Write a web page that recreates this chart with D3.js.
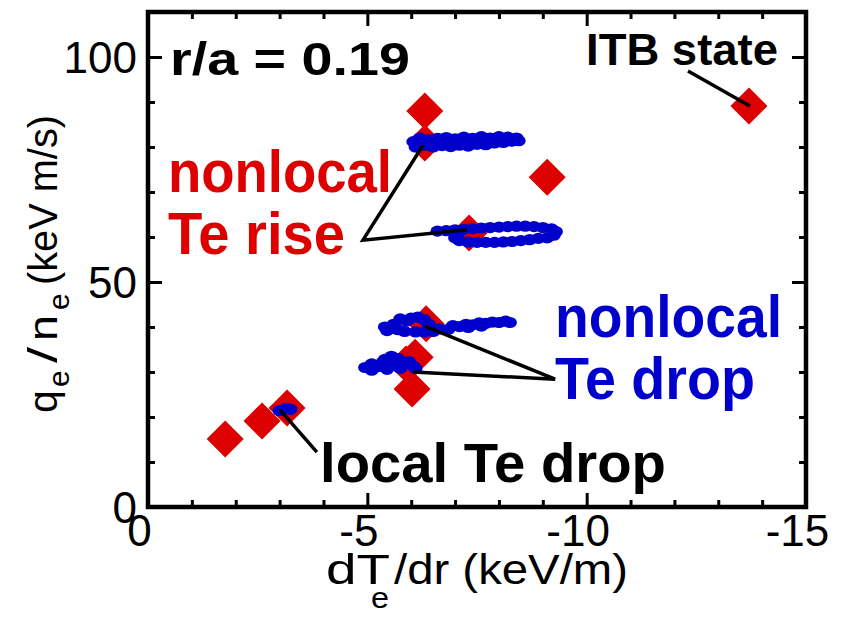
<!DOCTYPE html>
<html>
<head>
<meta charset="utf-8">
<script src="https://cdn.jsdelivr.net/npm/d3@7"></script>
<style>
  body { margin: 0; background: #fff; }
  svg { display: block; font-family: "Liberation Sans", Arial, sans-serif; }
</style>
</head>
<body>
<svg id="chart" width="841" height="617"></svg>
<script>
const diamonds = [
  [-1.76, 15.1], [-2.60, 19.1], [-3.17, 22.0],
  [-6.31, 88.0], [-6.31, 80.9], [-9.10, 73.3], [-7.32, 60.9],
  [-6.34, 40.7], [-6.09, 33.3], [-5.88, 31.8], [-6.02, 26.2],
  [-13.70, 89.1]
];

// blue time traces (nonlocal rise / drop, local drop)
const riseTop = [
  [-6.05, 81.2], [-6.1, 80.0], [-6.2, 82.0], [-6.3, 80.4], [-6.4, 81.6], [-6.5, 80.0],
  [-6.6, 81.9], [-6.7, 80.3], [-6.8, 82.1], [-6.9, 80.1], [-7.0, 81.8], [-7.1, 80.4],
  [-7.2, 82.2], [-7.3, 80.2], [-7.4, 81.9], [-7.5, 80.6], [-7.6, 82.3], [-7.7, 80.5],
  [-7.8, 82.0], [-7.9, 80.9], [-8.0, 82.3], [-8.1, 81.0], [-8.2, 82.2], [-8.3, 81.3],
  [-8.4, 82.0], [-8.45, 81.4], [-6.15, 81.0], [-6.55, 81.0], [-6.95, 81.1], [-7.35, 81.1],
  [-7.75, 81.3], [-8.15, 81.6]
];
const riseMid = [
  [-6.6, 61.3], [-6.8, 61.4], [-7.0, 61.6], [-7.2, 61.7], [-7.4, 61.8], [-7.6, 62.0],
  [-7.8, 62.1], [-8.0, 62.2], [-8.2, 62.3], [-8.4, 62.4], [-8.6, 62.4], [-8.8, 62.3],
  [-9.0, 62.1], [-9.2, 61.8], [-9.3, 61.2], [-9.25, 60.4], [-9.1, 59.8],
  [-8.9, 59.7], [-8.7, 59.4], [-8.5, 59.2], [-8.3, 59.0], [-8.1, 58.9], [-7.9, 58.8],
  [-7.7, 58.8], [-7.5, 58.8], [-7.3, 58.9], [-7.1, 59.2], [-7.0, 59.8], [-7.05, 60.4]
];
const dropUpper = [
  [-5.4, 40.0], [-5.45, 39.2], [-5.6, 40.6], [-5.7, 39.4], [-5.85, 39.0], [-5.9, 41.3],
  [-6.0, 42.0], [-6.15, 42.2], [-6.3, 41.6], [-6.4, 40.6], [-6.1, 38.9], [-6.3, 38.9],
  [-6.5, 39.0], [-6.65, 39.6], [-5.75, 41.8],
  [-6.85, 39.5], [-6.95, 40.3], [-7.1, 40.1], [-7.25, 40.6], [-7.4, 40.5], [-7.55, 40.9],
  [-7.7, 40.8], [-7.85, 41.1], [-8.0, 41.0], [-8.15, 41.3], [-8.25, 41.0], [-7.3, 39.9],
  [-7.6, 40.2]
];
const dropLower = [
  [-4.95, 31.0], [-5.1, 31.8], [-5.1, 30.4], [-5.25, 31.2], [-5.35, 32.2], [-5.45, 30.6],
  [-5.55, 33.5], [-5.6, 31.6], [-5.7, 33.0], [-5.75, 30.8], [-5.85, 31.9], [-5.95, 32.3],
  [-6.05, 31.3], [-6.1, 30.8], [-5.4, 32.8]
];
const localDrop = [[-3.0, 21.4], [-3.15, 21.9], [-3.25, 21.7]];

// leader lines (data coords)
const leaders = [
  [[-12.31, 96.9], [-13.72, 89.1]],
  [[-6.27, 80.4], [-4.90, 59.3], [-7.27, 61.6]],
  [[-6.31, 40.2], [-9.28, 28.4], [-6.04, 30.0]],
  [[-3.01, 21.6], [-3.85, 12.2]]
];

const xMajor = [0, -5, -10, -15];
const xMinor = [-1, -2, -3, -4, -6, -7, -8, -9, -11, -12, -13, -14];
const yMajor = [0, 50, 100];
const yMinor = [10, 20, 30, 40, 60, 70, 80, 90, 110];

const red = "#dd0000", blue = "#0000cc";

const svg = d3.select("#chart");
const x = d3.scaleLinear().domain([0, -15]).range([148, 806]);
const y = d3.scaleLinear().domain([0, 110]).range([507, 12]);

// markers
svg.append("g").selectAll("path")
  .data(diamonds)
  .enter().append("path")
  .attr("d", d3.symbol(d3.symbolSquare, 686))
  .attr("transform", d => `translate(${x(d[0])},${y(d[1])}) rotate(45)`)
  .attr("fill", red);

const traces = [].concat(riseTop, riseMid, dropUpper, dropLower, localDrop);
svg.append("g").selectAll("ellipse")
  .data(traces)
  .enter().append("ellipse")
  .attr("cx", d => x(d[0]))
  .attr("cy", d => y(d[1]))
  .attr("rx", 7)
  .attr("ry", 5.6)
  .attr("fill", blue);

const line = d3.line().x(d => x(d[0])).y(d => y(d[1]));
svg.append("g").selectAll("path")
  .data(leaders)
  .enter().append("path")
  .attr("d", line)
  .attr("fill", "none")
  .attr("stroke", "#000")
  .attr("stroke-width", 3.5);

// axes, ticks pointing inward on all four sides
function styleAxis(g) {
  g.select(".domain").remove();
  g.selectAll(".tick line").attr("stroke", "#000").attr("stroke-width", 3);
  g.selectAll("text").attr("font-size", 44).attr("fill", "#000")
    .attr("font-family", "Liberation Sans, Arial, sans-serif");
}
const plain = d => String(d);   // hyphen minus, as in the figure

const axBottom = svg.append("g").attr("transform", "translate(0,507)");
axBottom.append("g").call(d3.axisBottom(x).tickValues(xMajor).tickSize(-14).tickPadding(8).tickFormat(plain)).call(styleAxis);
axBottom.append("g").call(d3.axisBottom(x).tickValues(xMinor).tickSize(-7).tickFormat("")).call(styleAxis);
axBottom.selectAll("text").attr("x", -9);

const axTop = svg.append("g").attr("transform", "translate(0,12)");
axTop.append("g").call(d3.axisTop(x).tickValues(xMajor).tickSize(-14).tickFormat("")).call(styleAxis);
axTop.append("g").call(d3.axisTop(x).tickValues(xMinor).tickSize(-7).tickFormat("")).call(styleAxis);

const axLeft = svg.append("g").attr("transform", "translate(148,0)");
axLeft.append("g").call(d3.axisLeft(y).tickValues(yMajor).tickSize(-14).tickPadding(11).tickFormat(plain)).call(styleAxis);
axLeft.append("g").call(d3.axisLeft(y).tickValues(yMinor).tickSize(-7).tickFormat("")).call(styleAxis);
axLeft.selectAll("text").attr("dy", "0.36em");

const axRight = svg.append("g").attr("transform", "translate(806,0)");
axRight.append("g").call(d3.axisRight(y).tickValues(yMajor).tickSize(-14).tickFormat("")).call(styleAxis);
axRight.append("g").call(d3.axisRight(y).tickValues(yMinor).tickSize(-7).tickFormat("")).call(styleAxis);

svg.append("rect")
  .attr("x", 148).attr("y", 12)
  .attr("width", 658).attr("height", 495)
  .attr("fill", "none")
  .attr("stroke", "#000")
  .attr("stroke-width", 4.5);

// text helper: left edge, baseline, size, fitted width
function label(parent, str, lx, by, size, width, fill, weight) {
  const t = parent.append("text")
    .attr("x", lx).attr("y", by)
    .attr("font-size", size)
    .attr("font-weight", weight || "normal")
    .attr("fill", fill || "#000")
    .text(str);
  if (width) t.attr("textLength", width).attr("lengthAdjust", "spacingAndGlyphs");
  return t;
}

label(svg, "r/a = 0.19", 170, 75, 46, 240, "#000", "bold");
label(svg, "ITB state", 586, 65, 45, 192, "#000", "bold");
label(svg, "nonlocal", 168, 192, 59, 224, red, "bold");
label(svg, "Te rise", 168, 254, 59, 177, red, "bold");
label(svg, "nonlocal", 555, 337, 59, 227, blue, "bold");
label(svg, "Te drop", 555, 399, 59, 200, blue, "bold");
label(svg, "local Te drop", 320, 482, 56, 346, "#000", "bold");

// x title
label(svg, "dT", 326, 584, 43, 64);
label(svg, "e", 371, 608, 30, 18);
label(svg, "/dr (keV/m)", 394, 584, 43, 234);

// y title, rotated
const yt = svg.append("g").attr("transform", "translate(57,413) rotate(-90)");
label(yt, "q", 0, 0, 41);
label(yt, "e", 26, 12, 30);
label(yt, "/", 50, 0, 41, 16);
label(yt, "n", 72, 0, 41, 26);
label(yt, "e", 103, 12, 30);
label(yt, "(keV m/s)", 128, 0, 40, 170);
</script>
</body>
</html>
